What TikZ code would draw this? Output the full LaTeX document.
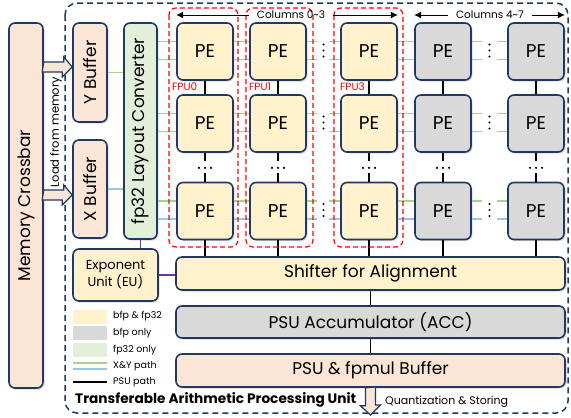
\documentclass[tikz,border=0pt]{standalone}
\usepackage{fontspec}
\setmainfont{Poppins}
\usetikzlibrary{positioning, arrows.meta, shadows, calc}
\definecolor{navy}{HTML}{1F3864}
\definecolor{peach}{HTML}{FBE5D6}
\definecolor{bfpfp}{HTML}{FFF2CC}
\definecolor{bfponly}{HTML}{D9D9D9}
\definecolor{fponly}{HTML}{E2F0D9}
\definecolor{ycol}{HTML}{A9D18E}
\definecolor{xcol}{HTML}{9DC3E6}
\definecolor{eucol}{HTML}{7030A0}
\tikzset{
  unit/.style={draw=navy, line width=1.6pt, rounded corners=6pt, inner sep=0pt,
    align=center, font=\fontsize{17}{20}\selectfont,
    drop shadow={opacity=0.3, shadow xshift=1.5pt, shadow yshift=-1.5pt}},
  pe/.style={unit, minimum width=56pt, minimum height=57pt, font=\fontsize{18.5}{20}\selectfont},
  ypathline/.style={draw=ycol, line width=1.8pt},
  xpathline/.style={draw=xcol, line width=1.8pt},
  psuline/.style={draw=black, line width=1.8pt},
  euline/.style={draw=eucol, line width=1.5pt},
  fpubox/.style={draw=red, dash pattern=on 5pt off 3pt, line width=1.2pt, rounded corners=7pt},
  fpulabel/.style={text=red, font=\fontsize{10.5}{10}\selectfont, inner sep=0pt, anchor=west},
  blockarrow/.style={draw=navy, fill=peach, line width=1.2pt, line join=miter},
  legendtext/.style={font=\fontsize{9.5}{10}\selectfont, inner sep=0pt, anchor=west},
  swatch/.style={minimum width=34pt, minimum height=14pt, inner sep=0pt},
  colarrow/.style={-{Latex[length=7pt,width=7pt]}, line width=1pt},
  collabel/.style={font=\fontsize{10.5}{10}\selectfont, inner sep=0pt},
}

\begin{document}
\begin{tikzpicture}[x=1pt, y=-1pt]
\useasboundingbox (0,0) rectangle (571,418);

% the processing unit frame
\draw[navy, dash pattern=on 6pt off 4pt, line width=1.5pt, rounded corners=12pt] (65,3) rectangle (568,413);

% memory side and buffers
\node[unit, fill=peach, minimum width=34pt, minimum height=365pt] (xbar) at (26,205.5) {\rotatebox{90}{Memory Crossbar}};
\node[unit, fill=peach, minimum width=34pt, minimum height=99pt] (ybuf) at (90,72.5) {\rotatebox{90}{Y Buffer}};
\node[unit, fill=peach, minimum width=34pt, minimum height=98pt] (xbuf) at (90,189) {\rotatebox{90}{X Buffer}};
\node[unit, fill=fponly, minimum width=33pt, minimum height=216pt] (conv) at (140.5,131) {\rotatebox{90}{fp32 Layout Converter}};
\node[unit, fill=bfpfp, minimum width=85pt, minimum height=52pt, font=\fontsize{13}{17}\selectfont] (eu) at (115.5,275) {Exponent\\Unit (EU)};

\coordinate (ytip) at ([yshift=5.5pt]ybuf.west);
\coordinate (xtip) at ([yshift=-6pt]xbuf.west);
\draw[blockarrow] (xbar.east |- ytip) ++(0,-5) -- ++(20,0) -- ++(0,-5) -- (ytip) -- ++(-10,10) -- ++(0,-5) -- ++(-20,0) -- cycle;
\draw[blockarrow] (xbar.east |- xtip) ++(0,-5) -- ++(20,0) -- ++(0,-5) -- (xtip) -- ++(-10,10) -- ++(0,-5) -- ++(-20,0) -- cycle;
\node[font=\fontsize{11.5}{11}\selectfont, rotate=90, inner sep=0pt] (loadlbl) at (56,132) {Load from memory};

\draw[ypathline] (ybuf.east) -- (ybuf.east -| conv.west);
\draw[xpathline] (xbuf.east) -- (xbuf.east -| conv.west);

% PE array
\foreach \c/\px/\f in {0/205/bfpfp, 1/278/bfpfp, 2/369/bfpfp, 3/443/bfponly, 4/536/bfponly}
  \foreach \r/\py in {0/51.5, 1/123.5, 2/211}
    \node[pe, fill=\f] (pe\c\r) at (\px,\py) {PE};

% shifter, accumulator, buffer
\node[unit, fill=bfpfp, minimum width=389pt, minimum height=33pt] (shift) at (370.5,273.5) {Shifter for Alignment};
\node[unit, fill=bfponly, minimum width=389pt, minimum height=32pt] (acc) at (370.5,322) {PSU Accumulator (ACC)};
\node[unit, fill=peach, minimum width=389pt, minimum height=33pt] (psubuf) at (370.5,370.5) {PSU \& fpmul Buffer};
\draw[psuline] (shift) -- (acc);
\draw[psuline] (acc) -- (psubuf);

\draw[euline] (conv.south) -- (conv.south |- eu.north);
\draw[euline] (eu.east) -- (eu.east -| shift.west);

% X & Y paths
\foreach \r in {0,1,2} {
  \coordinate (g\r) at ($(pe0\r.center)+(0,-10)$);
  \coordinate (b\r) at ($(pe0\r.center)+(0,8)$);
  \foreach \h/\p in {g/ypathline, b/xpathline} {
    \draw[\p] (conv.east |- \h\r) -- (pe0\r.west |- \h\r);
    \draw[\p] (pe0\r.east |- \h\r) -- (pe1\r.west |- \h\r);
    \draw[\p] (pe2\r.east |- \h\r) -- (pe3\r.west |- \h\r);
    \draw[\p] (pe1\r.east |- \h\r) -- ++(10,0);
    \draw[\p] (pe2\r.west |- \h\r) -- ++(-11,0);
    \draw[\p] (pe3\r.east |- \h\r) -- ++(10,0);
    \draw[\p] (pe4\r.west |- \h\r) -- ++(-10,0);
  }
  \path (pe1\r.east) -- (pe2\r.west) coordinate[midway] (m\r);
  \path (pe3\r.east) -- (pe4\r.west) coordinate[midway] (n\r);
  \foreach \dy in {-7,-1,5} {
    \fill ($(m\r)+(0,\dy)$) circle (1.2pt);
    \fill ($(n\r)+(0,\dy)$) circle (1.2pt);
  }
}

% PSU paths
\foreach \c in {0,...,4} {
  \draw[psuline] (pe\c0) -- (pe\c1);
  \draw[psuline] (pe\c1.south) -- ++(0,8);
  \draw[psuline] (pe\c2.north) -- ++(0,-9);
  \draw[psuline] (pe\c2.south) -- (pe\c2.south |- shift.north);
  \foreach \dx in {-6,0,6}
    \fill ($(pe\c1.south)+(\dx,15)$) circle (1.2pt);
}

% FPU groups
\draw[fpubox] (169,8) rectangle (238,247);
\draw[fpubox] (246,8) rectangle (313,247);
\draw[fpubox] (334,8) rectangle (403,247);
\node[fpulabel] (fpu0) at (172,87) {FPU0};
\node[fpulabel] (fpu1) at (249,87) {FPU1};
\node[fpulabel] (fpu3) at (340,87) {FPU3};

\node[collabel] (cols03) at (291,15) {Columns 0\textasciitilde 3};
\draw[colarrow] ([xshift=-8pt]cols03.west) -- (pe00.north west |- cols03.west);
\draw[colarrow] ([xshift=8pt]cols03.east) -- (pe20.north east |- cols03.east);
\node[collabel] (cols47) at (490,15) {Columns 4\textasciitilde 7};
\draw[colarrow] ([xshift=-8pt]cols47.west) -- (pe30.north west |- cols47.west);
\draw[colarrow] ([xshift=8pt]cols47.east) -- (pe40.north east |- cols47.east);

% legend
\node[swatch, fill=bfpfp] (lg1) at (90,316.5) {};
\node[swatch, fill=bfponly] (lg2) at (90,333) {};
\node[swatch, fill=fponly] (lg3) at (90,350) {};
\coordinate (lg4) at (90,366);
\coordinate (lg5) at (90,382);
\draw[ypathline] ($(lg4)+(-17,-3)$) -- ++(34,0);
\draw[xpathline] ($(lg4)+(-17,3)$) -- ++(34,0);
\draw[psuline] ($(lg5)+(-17,0)$) -- ++(34,0);
\node[legendtext] (lg1t) at (113,316.5) {bfp \& fp32};
\node[legendtext] (lg2t) at (113,333) {bfp only};
\node[legendtext] (lg3t) at (113,350) {fp32 only};
\node[legendtext] (lg4t) at (113,366) {X\&Y path};
\node[legendtext] (lg5t) at (113,382) {PSU path};

% output
\coordinate (qtip) at (370.5,415);
\draw[blockarrow] ([xshift=-5pt]psubuf.south) -- ++(0,18) -- ++(-5,0) -- (qtip) -- ++(10,-10) -- ++(-5,0) -- ++(0,-18) -- cycle;
\node[font=\bfseries\fontsize{13.7}{13}\selectfont, anchor=west, inner sep=0pt] (tapu) at (75,400) {Transferable Arithmetic Processing Unit};
\node[font=\fontsize{11}{10}\selectfont, anchor=west, inner sep=0pt] (qlbl) at (385,402) {Quantization \& Storing};
\end{tikzpicture}
\end{document}
